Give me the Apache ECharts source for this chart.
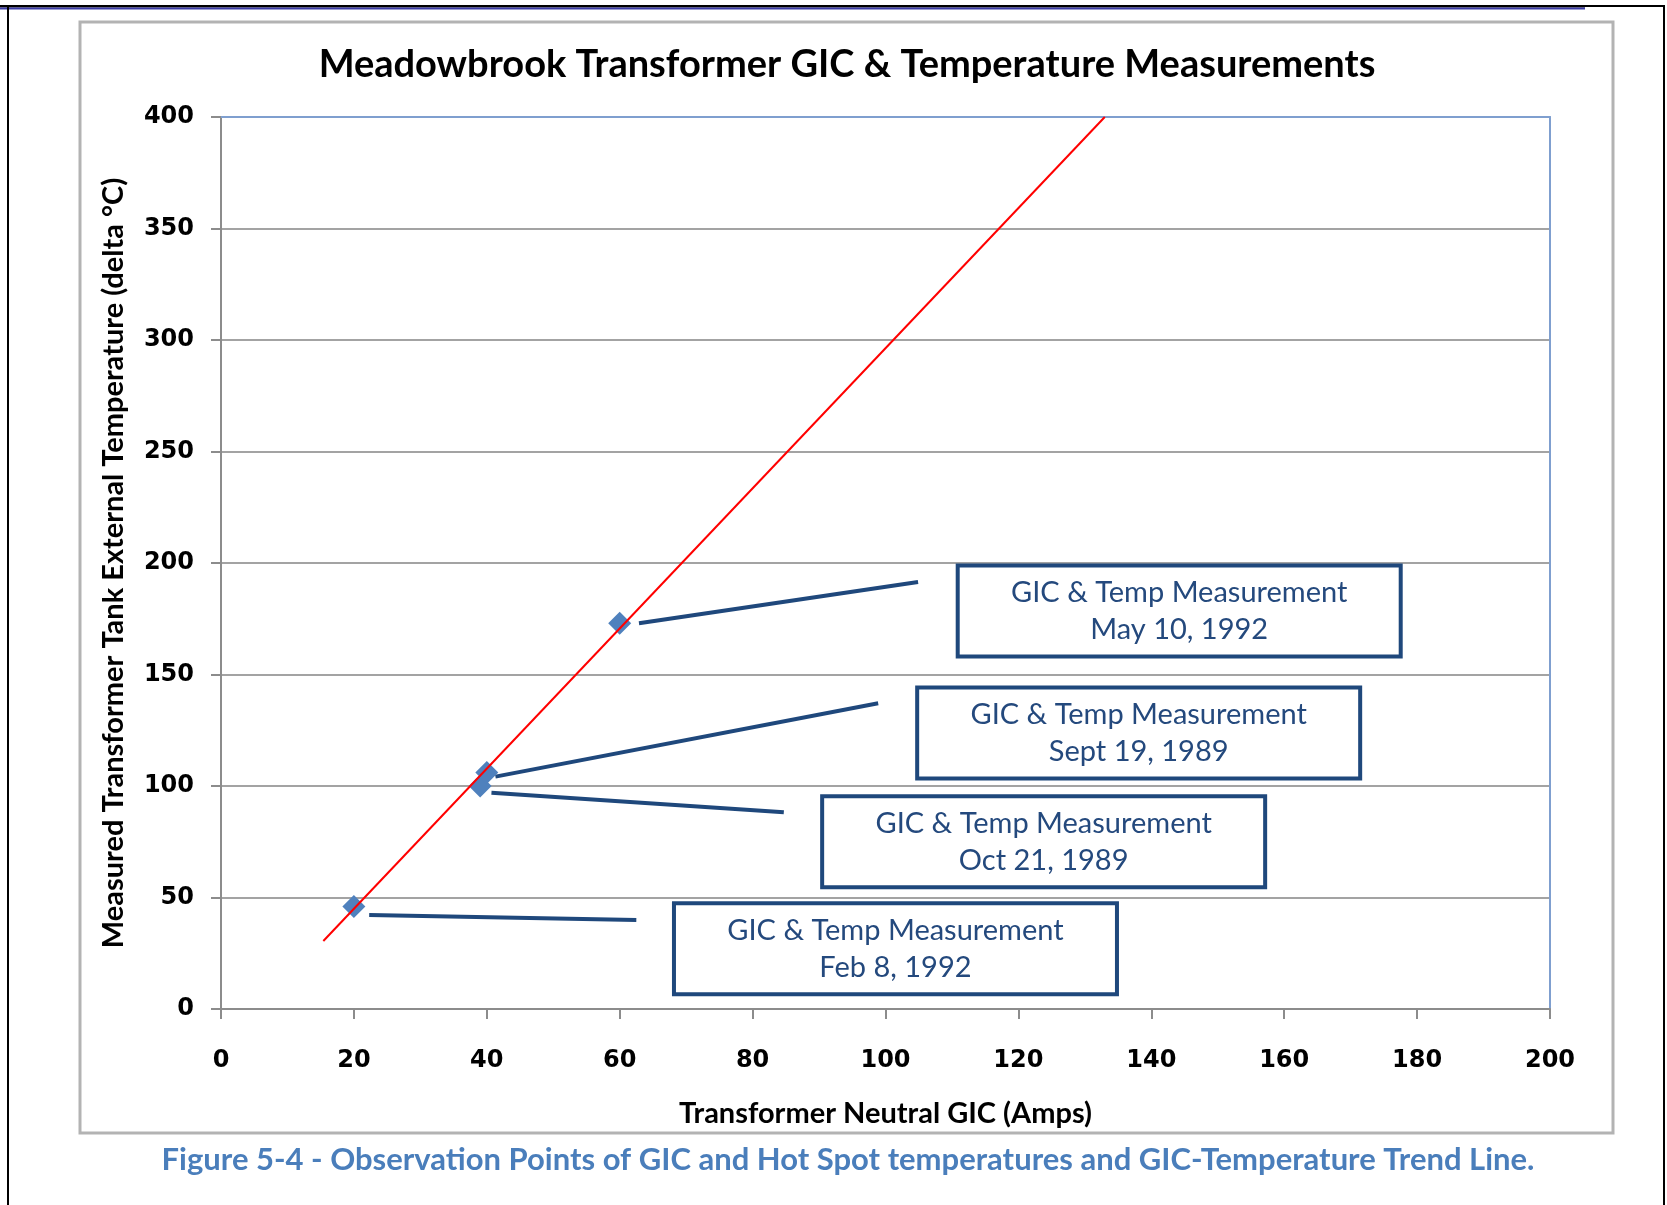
<!DOCTYPE html>
<html>
<head>
<meta charset="utf-8">
<script src="https://cdn.jsdelivr.net/npm/echarts@6/dist/echarts.min.js"></script>
<style>
  html, body { margin: 0; padding: 0; background: #fff; }
  #chart { width: 1667px; height: 1205px; }
</style>
</head>
<body>
<div id="chart"></div>
<script>
// Measured points: neutral GIC (A) vs. tank external temperature rise (delta °C)
const gicAmps   = [20, 39, 40, 60];
const deltaTemp = [46, 100, 106, 173];

// GIC-temperature trend line end points
const trendGic  = [15.4, 133];
const trendTemp = [30.5, 400];

// Axis ranges and tick steps
const xRange = [0, 200], xStep = 20;
const yRange = [0, 400], yStep = 50;

// Callout boxes (centre in data units) and their dates
const calloutTitle = 'GIC & Temp Measurement';
const calloutDates = ['May 10, 1992', 'Sept 19, 1989', 'Oct 21, 1989', 'Feb 8, 1992'];
const calloutGic   = [144.2, 138.1, 123.8, 101.5];
const calloutTemp  = [178.5, 123.8, 75.0, 27.0];

// Leader lines from each marker toward its callout
const leaderFromGic  = [62.9, 41.3, 40.7, 22.3];
const leaderFromTemp = [173.0, 104.2, 97.0, 42.2];
const leaderToGic    = [104.9, 98.9, 84.7, 62.5];
const leaderToTemp   = [191.5, 137.1, 88.2, 39.9];

const TEXT_FONT = 'Lato, "Open Sans", sans-serif';
const NUM_FONT = '"DejaVu Sans", Verdana, sans-serif';
const NAVY = '#1f487c';
const CALLOUT_TEXT = '#24497d';
const MARKER_BLUE = '#4f81bd';
const AXIS_GRAY = '#8c8c8c';
const GRID_GRAY = '#a3a3a3';
const FRAME_BLUE = '#7f9fcf';
const BOX_W = 443, BOX_H = 91;

const chart = echarts.init(document.getElementById('chart'), null, { renderer: 'canvas' });

const option = {
  animation: false,
  backgroundColor: '#ffffff',
  title: [
    {
      text: 'Meadowbrook Transformer GIC & Temperature Measurements',
      left: 847, top: 46, textAlign: 'center', padding: 0,
      textStyle: { fontFamily: TEXT_FONT, fontWeight: 'bold', fontSize: 38, color: '#000' }
    },
    {
      text: 'Figure 5-4 - Observation Points of GIC and Hot Spot temperatures and GIC-Temperature Trend Line.',
      left: 848, top: 1144, textAlign: 'center', padding: 0,
      textStyle: { fontFamily: TEXT_FONT, fontWeight: 'bold', fontSize: 31, color: '#4a7ebb' }
    }
  ],
  grid: { left: 221, right: 117, top: 117, bottom: 196, show: false },
  xAxis: [
    {
      type: 'value', min: xRange[0], max: xRange[1], interval: xStep, position: 'bottom',
      axisLine: { onZero: false, lineStyle: { color: AXIS_GRAY, width: 2 } },
      axisTick: { show: true, length: 10, lineStyle: { color: AXIS_GRAY, width: 2 } },
      axisLabel: { margin: 40, fontFamily: NUM_FONT, fontWeight: 'bold', fontSize: 24, color: '#000' },
      splitLine: { show: false },
      name: 'Transformer Neutral GIC (Amps)', nameLocation: 'middle', nameGap: 90,
      nameTextStyle: { fontFamily: TEXT_FONT, fontWeight: 'bold', fontSize: 29, color: '#000' }
    },
    {
      type: 'value', min: xRange[0], max: xRange[1], position: 'top',
      axisLine: { onZero: false, lineStyle: { color: FRAME_BLUE, width: 2 } },
      axisTick: { show: false }, axisLabel: { show: false }, splitLine: { show: false }
    }
  ],
  yAxis: [
    {
      type: 'value', min: yRange[0], max: yRange[1], interval: yStep, position: 'left',
      axisLine: { show: true, onZero: false, lineStyle: { color: AXIS_GRAY, width: 2 } },
      axisTick: { show: true, length: 10, lineStyle: { color: AXIS_GRAY, width: 2 } },
      axisLabel: { margin: 27, fontFamily: NUM_FONT, fontWeight: 'bold', fontSize: 24, color: '#000' },
      splitLine: { show: true, lineStyle: { color: GRID_GRAY, width: 2 } },
      name: 'Measured Transformer Tank External Temperature (delta \u00B0C)',
      nameLocation: 'middle', nameGap: 93,
      nameTextStyle: { fontFamily: TEXT_FONT, fontWeight: 'bold', fontSize: 29, color: '#000' }
    },
    {
      type: 'value', min: yRange[0], max: yRange[1], position: 'right',
      axisLine: { show: true, onZero: false, lineStyle: { color: FRAME_BLUE, width: 2 } },
      axisTick: { show: false }, axisLabel: { show: false }, splitLine: { show: false }
    }
  ],
  series: [
    {
      name: 'Leaders', type: 'lines', coordinateSystem: 'cartesian2d', silent: true, z: 2,
      lineStyle: { color: NAVY, width: 4, opacity: 1 },
      data: leaderFromGic.map((g, i) => ({
        coords: [[g, leaderFromTemp[i]], [leaderToGic[i], leaderToTemp[i]]]
      }))
    },
    {
      name: 'Measurements', type: 'scatter', silent: true, z: 3,
      symbol: 'diamond', symbolSize: 23,
      itemStyle: { color: MARKER_BLUE, opacity: 1 },
      data: gicAmps.map((g, i) => [g, deltaTemp[i]])
    },
    {
      name: 'Trend', type: 'line', silent: true, z: 5,
      showSymbol: false, symbol: 'none',
      lineStyle: { color: '#ff0000', width: 2 },
      data: trendGic.map((g, i) => [g, trendTemp[i]])
    },
    {
      name: 'Callouts', type: 'custom', silent: true, z: 4,
      encode: { x: 0, y: 1 },
      data: calloutGic.map((g, i) => [g, calloutTemp[i], i]),
      renderItem: (params, api) => {
        const c = api.coord([api.value(0), api.value(1)]);
        return {
          type: 'rect',
          shape: { x: c[0] - BOX_W / 2, y: c[1] - BOX_H / 2, width: BOX_W, height: BOX_H },
          style: { fill: '#ffffff', stroke: NAVY, lineWidth: 4 },
          textContent: {
            style: {
              text: calloutTitle + '\n' + calloutDates[api.value(2)],
              fill: CALLOUT_TEXT, fontFamily: TEXT_FONT, fontSize: 29, lineHeight: 37,
              align: 'center', verticalAlign: 'middle'
            }
          },
          textConfig: { position: 'inside' }
        };
      }
    }
  ],
  graphic: [
    // chart area border
    { type: 'rect', z: 1, silent: true,
      shape: { x: 80, y: 22, width: 1533, height: 1111 },
      style: { fill: 'none', stroke: '#b3b3b3', lineWidth: 3 } },
    // page frame
    { type: 'rect', z: 100, silent: true, shape: { x: 0, y: 5, width: 1585, height: 2.5 }, style: { fill: '#000' } },
    { type: 'rect', z: 100, silent: true, shape: { x: 0, y: 7.5, width: 1585, height: 2 }, style: { fill: '#3c3ca6' } },
    { type: 'rect', z: 100, silent: true, shape: { x: 1585, y: 5, width: 80, height: 2 }, style: { fill: '#000' } },
    { type: 'rect', z: 100, silent: true, shape: { x: 7, y: 5, width: 2, height: 1200 }, style: { fill: '#000' } },
    { type: 'rect', z: 100, silent: true, shape: { x: 1663, y: 5, width: 2, height: 1200 }, style: { fill: '#000' } }
  ]
};

chart.setOption(option);
</script>
</body>
</html>
